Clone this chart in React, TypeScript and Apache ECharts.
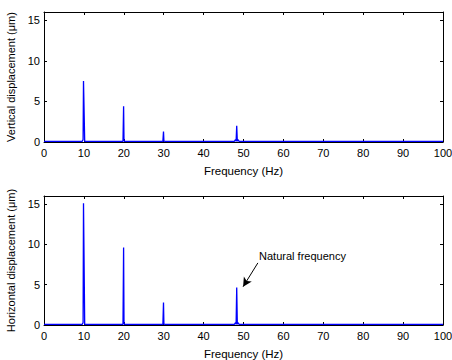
import React, { useEffect, useRef } from "react";
import * as echarts from "echarts";

const freqs = [0, 9.6, 9.8, 9.9, 10.0, 10.2, 19.8, 19.95, 20.05, 20.2, 29.8, 29.95, 30.05, 30.2, 47.7, 48.0, 48.15, 48.3, 48.45, 48.6, 48.9, 100];
const vertical = [0.08, 0.08, 0.3, 7.5, 7.5, 0.08, 0.08, 4.4, 0.2, 0.08, 0.08, 1.3, 0.15, 0.08, 0.08, 0.3, 0.1, 2.0, 0.1, 0.3, 0.08, 0.08];
const horizontal = [0.08, 0.08, 0.3, 15.1, 15.1, 0.08, 0.08, 9.6, 0.2, 0.08, 0.08, 2.8, 0.15, 0.08, 0.08, 0.3, 0.1, 4.65, 0.1, 0.3, 0.08, 0.08];
const xTicks = [0, 10, 20, 30, 40, 50, 60, 70, 80, 90, 100];
const yTicks = [0, 5, 10, 15];
const annotationText = "Natural frequency";
const arrowFrom = [53.6, 7.7];
const arrowTo = [49.9, 4.75];
const textAt = [53.9, 8.6];

const FONT = "'Liberation Sans', Arial, sans-serif";

export default function App() {
  const ref = useRef<HTMLDivElement>(null);
  useEffect(() => {
    const chart = echarts.init(ref.current!, undefined, { renderer: "svg" });
    const axisLine = { show: true, onZero: false, lineStyle: { color: "#000", width: 1 } };
    const tick = { show: true, inside: true, length: 3, lineStyle: { color: "#000" } };
    const lbl = { color: "#000", fontSize: 11, fontFamily: FONT };
    const mkX = (gridIndex: number) => [
      {
        type: "value", gridIndex, min: 0, max: 100, interval: 10, position: "bottom",
        name: "Frequency (Hz)", nameLocation: "middle", nameGap: 23,
        nameTextStyle: { color: "#000", fontSize: 11.5, fontFamily: FONT },
        axisLine, axisTick: tick,
        axisLabel: { ...lbl, margin: 5, formatter: (v: number) => (xTicks.includes(v) ? String(v) : "") },
        splitLine: { show: false },
      },
      {
        type: "value", gridIndex, min: 0, max: 100, interval: 10, position: "top",
        axisLine, axisTick: tick, axisLabel: { show: false }, splitLine: { show: false },
      },
    ];
    const mkY = (gridIndex: number, name: string) => [
      {
        type: "value", gridIndex, min: 0, max: 16, interval: 5, position: "left",
        name, nameLocation: "middle", nameGap: 28,
        nameTextStyle: { color: "#000", fontSize: 11, fontFamily: FONT },
        axisLine, axisTick: tick,
        axisLabel: { ...lbl, margin: 4, showMaxLabel: false,
          formatter: (v: number) => (yTicks.includes(v) ? String(v) : "") },
        splitLine: { show: false },
      },
      {
        type: "value", gridIndex, min: 0, max: 16, interval: 5, position: "right",
        axisLine, axisTick: tick, axisLabel: { show: false }, splitLine: { show: false },
      },
    ];
    chart.setOption({
      animation: false,
      backgroundColor: "#fff",
      grid: [
        { left: 44, right: 9, top: 12, height: 130, outerBoundsMode: "none", containLabel: false },
        { left: 44, right: 9, top: 196, height: 129, outerBoundsMode: "none", containLabel: false },
      ],
      xAxis: [...mkX(0), ...mkX(1)],
      yAxis: [...mkY(0, "Vertical displacement (\u03bcm)"), ...mkY(1, "Horizontal displacement (\u03bcm)")],
      series: [
        {
          type: "line", xAxisIndex: 0, yAxisIndex: 0, showSymbol: false,
          data: freqs.map((f, i) => [f, vertical[i]]),
          lineStyle: { color: "#0000ff", width: 1.3 }, itemStyle: { color: "#0000ff" },
        },
        {
          type: "line", xAxisIndex: 2, yAxisIndex: 2, showSymbol: false,
          data: freqs.map((f, i) => [f, horizontal[i]]),
          lineStyle: { color: "#0000ff", width: 1.3 }, itemStyle: { color: "#0000ff" },
          markLine: {
            silent: true, symbol: ["none", "arrow"], symbolSize: [7, 9],
            lineStyle: { color: "#000", width: 1, type: "solid" },
            label: { show: false },
            data: [[{ coord: arrowFrom }, { coord: arrowTo }]],
          },
          markPoint: {
            silent: true, symbol: "circle", symbolSize: 0,
            data: [{ coord: textAt, value: annotationText }],
            label: { show: true, position: "right", distance: 0, formatter: annotationText, color: "#000", fontSize: 11, fontFamily: FONT },
          },
        },
      ],
    });
    return () => chart.dispose();
  }, []);
  return <div ref={ref} style={{ width: 452, height: 360, position: "absolute", left: 0, top: 0 }} />;
}
